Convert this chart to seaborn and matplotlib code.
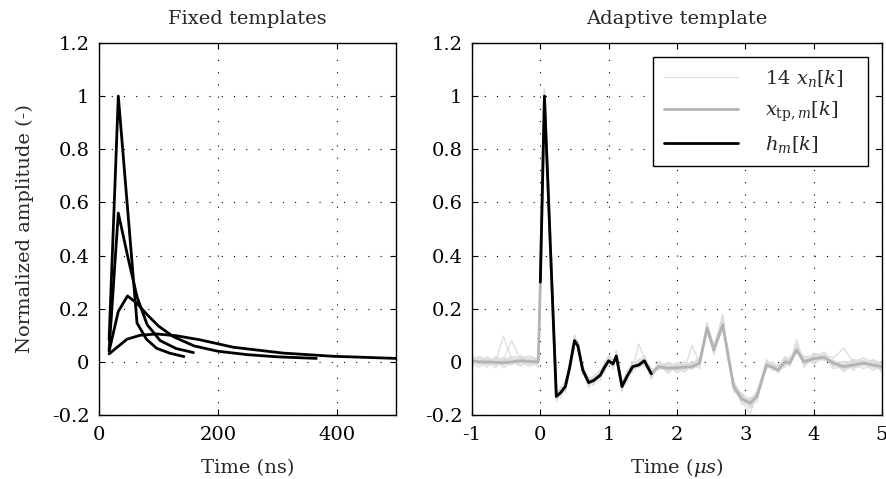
import numpy as np
import matplotlib
matplotlib.use("Agg")
import matplotlib.pyplot as plt
import seaborn as sns
from matplotlib.ticker import FuncFormatter

sns.set_style("ticks")
plt.rcParams["font.family"] = ["DejaVu Serif"]
plt.rcParams["mathtext.fontset"] = "dejavuserif"
plt.rcParams["axes.unicode_minus"] = False

# ---- Fixed templates (time in ns, normalized amplitude) ----
fixed_t1 = [17, 32.5, 64, 80, 97, 120, 143]
fixed_y1 = [0.083, 1.0, 0.146, 0.085, 0.051, 0.032, 0.02]
fixed_t2 = [17, 32.5, 49, 64, 81, 103, 130, 159]
fixed_y2 = [0.045, 0.56, 0.39, 0.245, 0.14, 0.08, 0.05, 0.035]
fixed_t3 = [17, 32.5, 48, 64, 80, 100, 125, 160, 200, 250, 300, 366]
fixed_y3 = [0.04, 0.19, 0.248, 0.22, 0.18, 0.135, 0.095, 0.06, 0.04, 0.027, 0.019, 0.013]
fixed_t4 = [17, 47, 69, 97, 131, 170, 226, 310, 394, 500]
fixed_y4 = [0.03, 0.085, 0.1, 0.105, 0.098, 0.083, 0.055, 0.033, 0.021, 0.013]

# ---- Adaptive template (time in us) ----
tp_t = [-1.00, -0.90, -0.78, -0.66, -0.54, -0.42, -0.29, -0.16, -0.03, 0.00,
        0.06, 0.234, 0.30, 0.366, 0.43, 0.50, 0.55, 0.62, 0.707, 0.78,
        0.878, 0.94, 1.00, 1.064, 1.112, 1.195, 1.268, 1.351, 1.439, 1.522,
        1.625, 1.73, 1.87, 2.00, 2.11, 2.22, 2.33, 2.44, 2.54, 2.67,
        2.75, 2.83, 2.95, 3.07, 3.17, 3.31, 3.40, 3.48, 3.58, 3.65,
        3.75, 3.86, 4.00, 4.15, 4.29, 4.44, 4.58, 4.73, 4.87, 5.00]
tp_y = [0.004, 0.0, 0.0, -0.002, -0.003, 0.0, 0.004, 0.002, 0.0, 0.30,
        1.00, -0.13, -0.115, -0.093, -0.02, 0.08, 0.06, -0.03, -0.078, -0.07,
        -0.05, -0.02, 0.004, -0.008, 0.022, -0.093, -0.055, -0.018, -0.012, 0.004,
        -0.045, -0.018, -0.024, -0.022, -0.02, -0.018, -0.005, 0.127, 0.045, 0.14,
        0.02, -0.093, -0.14, -0.155, -0.13, -0.012, -0.02, -0.031, 0.0, -0.005,
        0.045, 0.0, 0.012, 0.017, -0.005, -0.018, -0.012, -0.005, -0.012, -0.018]

# window kept as the impulse response h_m[k]
h_window = (0.0, 1.625)

# individual pulses x_n[k]: deviation from the template, in hundredths
pulse_dev = [
    [1,-1,2,0,10,1,-1,0,1,3, 1,-1,1,-1,2,1,0,-1,1,-1, 0,2,1,-2,1,0,-1,1,2,0, 1,-1,2,0,-1,1,2,0,-1,2, 1,-1,0,-2,1,0,1,-1,2,0, 1,2,-1,0,1,-2,0,1,-1,0],
    [-1,1,0,-2,1,8,0,-1,0,-3, 2,1,-1,0,1,-1,2,1,0,-1, 1,0,-1,2,0,1,-1,0,1,2, 0,1,-1,0,2,-1,1,0,2,1, -1,0,1,-1,-2,1,0,2,-1,1, 0,-1,2,1,-1,0,2,-1,1,-2],
    [0,2,-1,1,0,-1,1,2,0,4, 0,-2,0,1,-1,2,-1,0,-2,1, -1,1,2,0,-1,1,2,-1,8,1, -1,0,1,-2,0,1,-1,2,0,-1, 2,0,-1,1,0,-1,2,0,1,-1, 2,0,1,-1,0,2,-1,0,2,1],
    [2,0,1,-1,2,0,-2,1,-1,-2, 1,0,2,-1,0,1,1,-2,1,0, 2,-1,0,1,-2,0,1,1,-1,2, 0,2,0,1,-1,8,0,1,1,-2, 0,1,2,-1,1,2,-1,0,-2,1, -1,1,0,2,-1,1,0,-2,0,1],
    [-2,1,-1,2,0,1,0,-1,2,-4, -1,1,-1,2,0,-1,0,1,0,-1, 0,-2,1,-1,2,-1,0,-2,0,1, 2,-1,1,-1,0,2,-1,-1,2,0, -1,2,1,0,-1,0,2,1,0,-1, 4,-1,2,0,1,-1,2,1,0,-1],
    [0,-1,1,1,-2,0,2,0,-1,1, 2,-1,2,0,-1,1,-1,-1,2,1, -1,1,-1,0,1,2,1,0,-1,-1, 0,1,-2,1,2,0,1,-1,1,2, 1,-1,-1,2,0,1,-1,2,-1,0, 1,0,-1,1,2,7,1,-1,1,0],
    [1,0,-1,0,1,-1,0,2,1,5, -1,2,1,-2,1,0,1,0,-1,2, 1,0,2,-1,0,-2,1,-1,0,1, -1,0,-1,2,1,-1,0,2,1,4, -1,0,2,1,-1,2,0,-1,1,2, 0,-1,1,-1,0,2,-2,1,0,2],
    [-1,-2,0,1,-1,2,1,0,0,-5, 0,1,0,1,-2,1,0,2,1,-1, 0,1,-1,1,0,-1,2,1,0,-2, 1,-1,0,0,-2,1,0,-1,-1,0, 2,1,-1,-4,1,-1,0,1,2,1, -1,2,0,-1,1,-1,1,0,-1,2],
    [1,1,-2,1,0,-1,2,-1,1,2, 3,-1,1,0,1,1,-1,0,1,-2, 1,-1,0,2,-1,1,0,-1,1,0, -2,1,1,-1,0,2,-1,1,2,-1, 0,-2,1,1,-1,0,-1,2,0,1, 2,-1,0,1,-2,0,1,2,-1,-1],
    [-1,0,1,-1,2,0,-1,1,-2,-1, 1,1,-2,1,0,2,1,-1,0,1, -1,2,1,-1,1,0,-2,1,0,1, 1,0,2,1,-1,0,2,-1,0,2, 1,-1,0,1,2,-1,1,0,-1,2, -1,1,-2,0,1,-1,0,2,1,-2],
    [2,-1,0,1,-1,1,0,-2,0,1, -2,0,1,-1,2,-1,0,1,-1,1, 2,0,-1,1,0,-1,1,2,-1,0, -1,2,0,-1,1,1,-2,0,-1,1, 1,-1,2,-2,0,1,1,-1,1,0, 1,-2,1,0,-1,2,1,-1,2,0],
    [0,1,-1,2,1,0,-1,1,1,-2, 2,-1,0,1,-1,0,2,-1,1,0, -2,1,0,-1,2,1,0,-1,1,-1, 2,-1,1,0,1,-1,0,1,-2,2, -1,1,0,2,-1,1,-1,0,1,-1, 0,1,-1,2,0,-1,1,0,-2,1],
    [-1,2,1,-1,0,1,-2,0,1,0, 1,0,1,-1,0,2,0,1,-1,1, 0,-1,2,1,-1,0,1,-1,2,1, 0,1,-1,2,0,-1,1,-2,1,-1, 2,0,-2,1,1,-1,0,1,-1,2, 0,2,1,-1,1,0,-1,1,0,-1],
    [1,-1,0,-1,1,2,1,-1,-1,3, 0,-1,1,2,-1,1,-1,1,2,-1, 1,-1,0,-1,1,2,-1,0,1,-1, -1,0,2,-1,0,1,1,0,-1,1, 1,-1,1,0,2,-1,1,-1,0,-1, 2,0,-1,1,-1,1,2,0,1,1],
]

LIGHT = "#dcdcdc"
MID = "#b3b3b3"
FS = 14

W, H = 887, 479
fig = plt.figure(figsize=(W / 100, H / 100), dpi=100)
ax1 = fig.add_axes([99 / W, 1 - 415 / H, 297 / W, 372 / H])
ax2 = fig.add_axes([472 / W, 1 - 415 / H, 410 / W, 372 / H])

# left panel: fixed templates
for tt, yy in [(fixed_t1, fixed_y1), (fixed_t2, fixed_y2),
               (fixed_t3, fixed_y3), (fixed_t4, fixed_y4)]:
    sns.lineplot(x=tt, y=yy, ax=ax1, color="black", lw=2.0,
                 estimator=None, sort=False)

# right panel: pulses, their average template, and the windowed template
tp_t_arr = np.array(tp_t)
tp_y_arr = np.array(tp_y)
for i, dev in enumerate(pulse_dev):
    sns.lineplot(x=tp_t_arr, y=tp_y_arr + np.array(dev) / 100.0, ax=ax2,
                 color=LIGHT, lw=0.9, estimator=None, sort=False,
                 label=r"14 $x_n[k]$   " if i == 0 else None)
sns.lineplot(x=tp_t_arr, y=tp_y_arr, ax=ax2, color=MID, lw=2.0,
             estimator=None, sort=False, label=r"$x_{\mathrm{tp},m}[k]$   ")
mask = (tp_t_arr >= h_window[0]) & (tp_t_arr <= h_window[1])
sns.lineplot(x=tp_t_arr[mask], y=tp_y_arr[mask], ax=ax2, color="black",
             lw=2.0, estimator=None, sort=False, label=r"$h_m[k]$")

fmt = FuncFormatter(lambda v, p: "%g" % round(v, 3))
for ax, title, xlabel, xlim, xticks in [
    (ax1, "Fixed templates", "Time (ns)", (0, 500), [0, 200, 400]),
    (ax2, "Adaptive template", r"Time ($\mu s$)", (-1, 5), [-1, 0, 1, 2, 3, 4, 5]),
]:
    ax.set_xlim(*xlim)
    ax.set_ylim(-0.2, 1.2)
    ax.set_xticks(xticks)
    ax.set_yticks(np.round(np.arange(-0.2, 1.21, 0.2), 1))
    ax.xaxis.set_major_formatter(fmt)
    ax.yaxis.set_major_formatter(fmt)
    ax.set_title(title, fontsize=FS, pad=14)
    ax.set_xlabel(xlabel, fontsize=FS, va="baseline")
    ax.xaxis.set_label_coords(0.5, -0.157)
    ax.tick_params(direction="in", top=True, right=True, labelsize=FS,
                   length=4, width=0.8, colors="black")
    ax.tick_params(axis="x", pad=8)
    ax.tick_params(axis="y", pad=7)
    ax.grid(True, color="black", linestyle=(0, (1, 10)), linewidth=0.8)
    for s in ax.spines.values():
        s.set_color("black")
        s.set_linewidth(1.0)

ax1.set_ylabel("Normalized amplitude (-)", fontsize=FS, labelpad=13)

leg = ax2.legend(loc="upper right", bbox_to_anchor=(0.9666, 0.9624),
                 fontsize=FS, frameon=True, fancybox=False, framealpha=1,
                 edgecolor="black", handlelength=3.8, handletextpad=1.4,
                 borderpad=0.55, labelspacing=0.55, borderaxespad=0)
leg.get_frame().set_linewidth(1.0)

fig.savefig("out.png", dpi=100)
